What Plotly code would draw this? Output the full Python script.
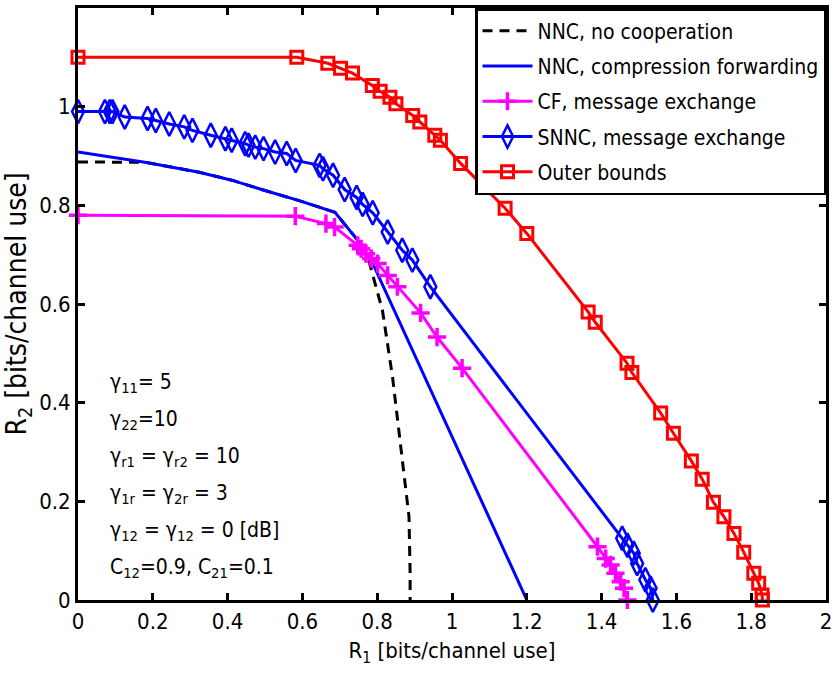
import plotly.graph_objects as go

# Rate regions (R1, R2) in bits/channel use
nnc_nocoop_r1 = [0, 0.183, 0.324, 0.411, 0.5, 0.589, 0.687, 0.748, 0.775, 0.795, 0.814, 0.841, 0.863, 0.885, 0.888, 0.888]
nnc_nocoop_r2 = [0.888, 0.887, 0.867, 0.851, 0.830, 0.810, 0.786, 0.729, 0.695, 0.640, 0.587, 0.452, 0.304, 0.169, 0.055, 0]

nnc_cf_r1 = [0, 0.183, 0.324, 0.411, 0.5, 0.589, 0.687, 0.748, 0.793, 1.2]
nnc_cf_r2 = [0.908, 0.887, 0.867, 0.851, 0.830, 0.810, 0.786, 0.729, 0.674, 0]

cf_mx_r1 = [0, 0.581, 0.663, 0.686, 0.748, 0.757, 0.770, 0.784, 0.801, 0.828, 0.854,
            0.916, 0.960, 1.027, 1.389, 1.411, 1.424, 1.437, 1.451, 1.460, 1.469]
cf_mx_r2 = [0.780, 0.778, 0.763, 0.756, 0.719, 0.712, 0.702, 0.692, 0.682, 0.658, 0.635,
            0.582, 0.533, 0.470, 0.108, 0.084, 0.071, 0.054, 0.037, 0.024, 0]

snnc_mx_r1 = [0, 0.072, 0.085, 0.092, 0.125, 0.186, 0.208, 0.244, 0.284, 0.306,
              0.355, 0.394, 0.411, 0.447, 0.456, 0.474, 0.496, 0.527, 0.558, 0.582,
              0.646, 0.655, 0.682, 0.713, 0.745, 0.761, 0.788, 0.828, 0.867, 0.894,
              0.942, 1.455, 1.469, 1.486, 1.495, 1.517, 1.531, 1.537]
snnc_mx_r2 = [0.990, 0.990, 0.990, 0.990, 0.979, 0.976, 0.972, 0.965, 0.959, 0.952,
              0.942, 0.935, 0.932, 0.925, 0.922, 0.918, 0.915, 0.908, 0.905, 0.891,
              0.881, 0.874, 0.861, 0.832, 0.816, 0.802, 0.785, 0.746, 0.709, 0.689,
              0.635, 0.125, 0.111, 0.095, 0.074, 0.041, 0.024, 0]

outer_r1 = [0, 0.585, 0.668, 0.702, 0.734, 0.787, 0.808, 0.834, 0.850, 0.895, 0.914,
            0.954, 0.969, 1.023, 1.142, 1.200, 1.364, 1.383, 1.468, 1.481, 1.558,
            1.592, 1.640, 1.669, 1.699, 1.727, 1.754, 1.780, 1.807, 1.820, 1.829, 1.830]
outer_r2 = [1.100, 1.100, 1.088, 1.078, 1.068, 1.043, 1.031, 1.019, 1.006, 0.982, 0.969,
            0.942, 0.932, 0.885, 0.794, 0.743, 0.584, 0.563, 0.480, 0.461, 0.379,
            0.338, 0.282, 0.245, 0.198, 0.169, 0.135, 0.097, 0.054, 0.034, 0.010, 0]

x_ticks = [0, 0.2, 0.4, 0.6, 0.8, 1, 1.2, 1.4, 1.6, 1.8, 2]
x_tick_text = ["0", "0.2", "0.4", "0.6", "0.8", "1", "1.2", "1.4", "1.6", "1.8", "2"]
y_ticks = [0, 0.2, 0.4, 0.6, 0.8, 1]
y_tick_text = ["0", "0.2", "0.4", "0.6", "0.8", "1"]

param_lines = [
    "γ<sub>11</sub>= 5",
    "γ<sub>22</sub>=10",
    "γ<sub>r1</sub> = γ<sub>r2</sub> = 10",
    "γ<sub>1r</sub> = γ<sub>2r</sub> = 3",
    "γ<sub>12</sub> = γ<sub>12</sub> = 0 [dB]",
    "C<sub>12</sub>=0.9, C<sub>21</sub>=0.1",
]

FONT = "DejaVu Sans Condensed, Liberation Sans Narrow, Liberation Sans, Arial, sans-serif"
BLUE = "#0000ff"
MAGENTA = "#ff00ff"
RED = "#ff0000"

fig = go.Figure()

fig.add_trace(go.Scatter(
    x=nnc_nocoop_r1, y=nnc_nocoop_r2, mode="lines",
    name="NNC, no cooperation", legendgroup="g1",
    line=dict(color="black", width=3, dash="10px,7px"),
    cliponaxis=False,
))
fig.add_trace(go.Scatter(
    x=nnc_cf_r1, y=nnc_cf_r2, mode="lines",
    name="NNC, compression forwarding", legendgroup="g2",
    line=dict(color=BLUE, width=3),
    cliponaxis=False,
))
fig.add_trace(go.Scatter(
    x=cf_mx_r1, y=cf_mx_r2, mode="lines+markers",
    name="CF, message exchange", legendgroup="g3",
    line=dict(color=MAGENTA, width=3),
    marker=dict(symbol="cross-thin", size=13, color=MAGENTA,
                line=dict(color=MAGENTA, width=3.5)),
    cliponaxis=False,
))
fig.add_trace(go.Scatter(
    x=snnc_mx_r1, y=snnc_mx_r2, mode="lines+markers",
    name="SNNC, message exchange", legendgroup="g4",
    line=dict(color=BLUE, width=3),
    marker=dict(symbol="diamond-tall-open", size=17, color=BLUE,
                line=dict(color=BLUE, width=2.5)),
    cliponaxis=False,
))
fig.add_trace(go.Scatter(
    x=outer_r1, y=outer_r2, mode="lines+markers",
    name="Outer bounds", legendgroup="g5",
    line=dict(color=RED, width=3),
    marker=dict(symbol="square-open", size=12, color=RED,
                line=dict(color=RED, width=3)),
    cliponaxis=False,
))

# Channel parameter block in the lower-left corner
for i, txt in enumerate(param_lines):
    fig.add_annotation(
        x=0.04, y=0.367 - i * 0.0625, xref="paper", yref="paper",
        xanchor="left", yanchor="middle", showarrow=False,
        text=txt, font=dict(family=FONT, size=21, color="black"),
    )

axis_common = dict(
    showline=True, linewidth=3, linecolor="black", mirror="allticks",
    ticks="inside", ticklen=7, tickwidth=3, tickcolor="black",
    showgrid=False, zeroline=False,
    tickfont=dict(family=FONT, size=22, color="black"),
)

fig.update_layout(
    width=837, height=677,
    margin=dict(l=78, r=5, t=8, b=77),
    paper_bgcolor="white", plot_bgcolor="white",
    font=dict(family=FONT, size=21, color="black"),
    xaxis=dict(range=[0, 2], tickvals=x_ticks, ticktext=x_tick_text,
               title=dict(text="R<sub>1</sub> [bits/channel use]", standoff=10,
                          font=dict(family=FONT, size=22)),
               **axis_common),
    yaxis=dict(range=[0, 1.2], tickvals=y_ticks, ticktext=y_tick_text,
               title=dict(text="R<sub>2</sub> [bits/channel use]", standoff=8,
                          font=dict(family=FONT, size=28)),
               **axis_common),
    legend=dict(
        x=1, y=1, xanchor="right", yanchor="top",
        bgcolor="white", bordercolor="black", borderwidth=2.5,
        font=dict(family=FONT, size=21, color="black"),
        itemwidth=50, tracegroupgap=5,
    ),
    showlegend=True,
)

fig.write_html("out.html")
